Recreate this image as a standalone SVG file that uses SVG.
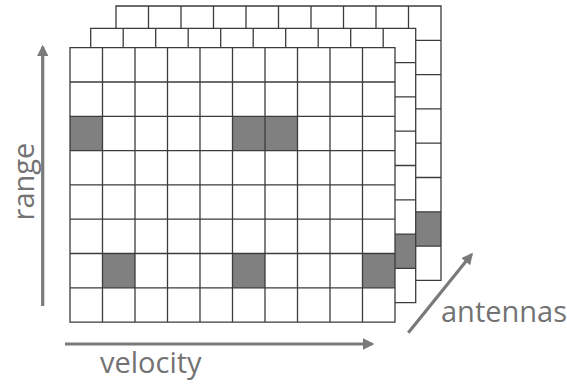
<svg xmlns="http://www.w3.org/2000/svg" xmlns:xlink="http://www.w3.org/1999/xlink" width="567" height="385" viewBox="0 0 567 385">
<style>
.bg{fill:#ffffff}
.grid{fill:none;stroke:#3c3c3c;stroke-width:1.3}
.cell{fill:#808080}
.axis{stroke:#7a7a7a;stroke-width:3.2;fill:none}
.lbl{font-family:"Open Sans","Noto Sans",sans-serif;font-size:29px;fill:#737373}
</style>
<defs>
<path id="lines" class="grid" d="M0,0H325V274.4H0Z M32.5,0V274.4 M65,0V274.4 M97.5,0V274.4 M130,0V274.4 M162.5,0V274.4 M195,0V274.4 M227.5,0V274.4 M260,0V274.4 M292.5,0V274.4 M0,34.3H325 M0,68.6H325 M0,102.9H325 M0,137.2H325 M0,171.5H325 M0,205.8H325 M0,240.1H325"/>
<marker id="ah" viewBox="0 0 10 10" refX="8" refY="5" markerWidth="3.6" markerHeight="3.6" orient="auto" markerUnits="strokeWidth">
<path d="M0,0L10,5L0,10Z" fill="#7a7a7a"/>
</marker>
</defs>
<g id="grid-back" transform="translate(116,6)">
<rect class="bg" x="0" y="0" width="325" height="274.4"/>
<rect class="cell" x="292.5" y="205.8" width="32.5" height="34.3"/>
<use xlink:href="#lines"/>
</g>
<g id="grid-middle" transform="translate(90.7,28.3)">
<rect class="bg" x="0" y="0" width="325" height="274.4"/>
<rect class="cell" x="292.5" y="205.8" width="32.5" height="34.3"/>
<use xlink:href="#lines"/>
</g>
<g id="grid-front" transform="translate(70,47.7)">
<rect class="bg" x="0" y="0" width="325" height="274.4"/>
<rect class="cell" x="0" y="68.6" width="32.5" height="34.3"/>
<rect class="cell" x="162.5" y="68.6" width="32.5" height="34.3"/>
<rect class="cell" x="195" y="68.6" width="32.5" height="34.3"/>
<rect class="cell" x="32.5" y="205.8" width="32.5" height="34.3"/>
<rect class="cell" x="162.5" y="205.8" width="32.5" height="34.3"/>
<rect class="cell" x="292.5" y="205.8" width="32.5" height="34.3"/>
<use xlink:href="#lines"/>
</g>
<g id="connectors">
<line class="axis" x1="42.7" y1="306" x2="42.7" y2="47" marker-end="url(#ah)"/>
<line class="axis" x1="65" y1="344" x2="372" y2="344" marker-end="url(#ah)"/>
<line class="axis" x1="408.3" y1="332.7" x2="471.5" y2="254.5" marker-end="url(#ah)"/>
</g>
<g id="labels">
<text class="lbl" transform="translate(34,181.5) rotate(-90)" text-anchor="middle">range</text>
<text class="lbl" x="100" y="373">velocity</text>
<text class="lbl" x="441" y="322">antennas</text>
</g>
</svg>
